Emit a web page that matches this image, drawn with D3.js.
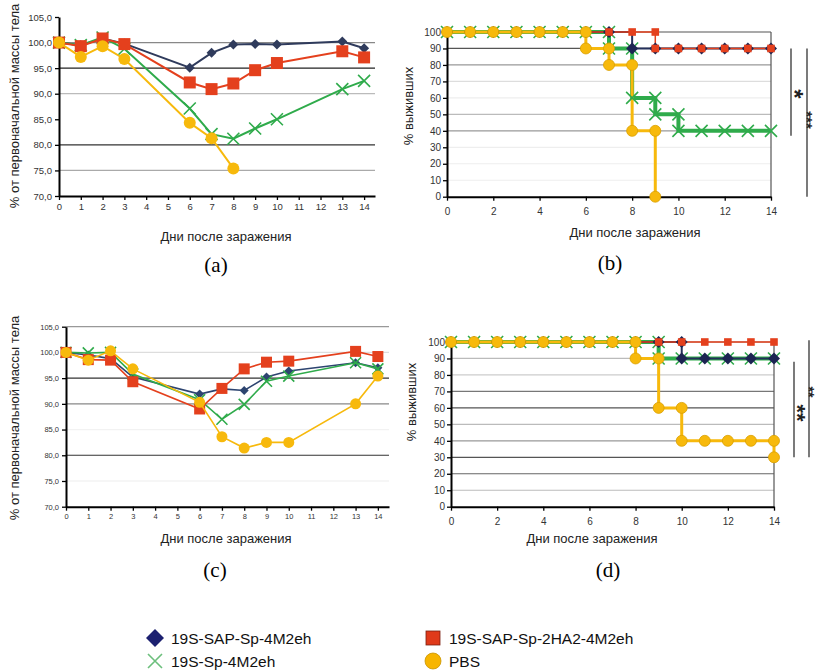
<!DOCTYPE html>
<html lang="ru">
<head>
<meta charset="utf-8">
<title>Масса тела и выживаемость</title>
<script src="https://cdn.jsdelivr.net/npm/d3@7"></script>
<style>
  body { margin: 0; background: #fff; }
  svg { display: block; font-family: "Liberation Sans", Arial, sans-serif; }
</style>
</head>
<body>
<svg id="chart" width="816" height="670"></svg>
<script>
// ---- data ----
var seriesNames = ["19S-SAP-Sp-4M2eh", "19S-SAP-Sp-2HA2-4M2eh", "19S-Sp-4M2eh", "PBS"];

var weightDays = [0, 1, 2, 3, 6, 7, 8, 9, 10, 13, 14];
var weightTicks = [70, 75, 80, 85, 90, 95, 100, 105];
var dayTicks = [0, 1, 2, 3, 4, 5, 6, 7, 8, 9, 10, 11, 12, 13, 14];

// (a) body weight, % of initial
var weightA_sap  = [100, 99.5, 100.8, 99.8, 95.1, 98.0, 99.6, 99.7, 99.6, 100.2, 98.9];
var weightA_ha2  = [100, 99.3, 100.8, 99.7, 92.2, 90.9, 92.0, 94.6, 96.0, 98.3, 97.1];
var weightA_sp   = [100, 99.5, 101.0, 98.8, 87.1, 82.1, 81.2, 83.2, 85.0, 90.9, 92.5];
var weightA_pbs  = [100, 97.2, 99.3, 96.8, 84.3, 81.3, 75.4, null, null, null, null];

// (c) body weight, % of initial
var weightC_sap  = [100, 99.5, 98.8, 95.2, 91.9, 92.9, 92.6, 95.2, 96.4, 98.0, 97.0];
var weightC_ha2  = [100, 98.6, 98.5, 94.3, 89.0, 93.0, 96.8, 98.1, 98.3, 100.2, 99.2];
var weightC_sp   = [100, 99.9, 100.0, 95.8, 90.8, 87.0, 89.9, 94.4, 95.4, 98.0, 96.8];
var weightC_pbs  = [100, 98.5, 100.3, 96.8, 90.3, 83.6, 81.4, 82.5, 82.5, 90.0, 95.4];

var survTicks = [0, 10, 20, 30, 40, 50, 60, 70, 80, 90, 100];
var survDayTicks = [0, 2, 4, 6, 8, 10, 12, 14];

// (b) survival, [day, %]
var survB_sap = [[0,100],[1,100],[2,100],[3,100],[4,100],[5,100],[6,100],[7,100],
                 [8,90],[9,90],[10,90],[11,90],[12,90],[13,90],[14,90]];
var survB_ha2 = [[0,100],[1,100],[2,100],[3,100],[4,100],[5,100],[6,100],[7,100],[8,100],[9,100],
                 [9,90],[10,90],[11,90],[12,90],[13,90],[14,90]];
var survB_sp  = [[0,100],[1,100],[2,100],[3,100],[4,100],[5,100],[6,100],[7,100],
                 [7,90],[8,90],[8,60],[9,60],[9,50],[10,50],[10,40],[11,40],[12,40],[13,40],[14,40]];
var survB_pbs = [[0,100],[1,100],[2,100],[3,100],[4,100],[5,100],[6,100],
                 [6,90],[7,90],[7,80],[8,80],[8,40],[9,40],[9,0]];

// (d) survival, [day, %]
var survD_sap = [[0,100],[1,100],[2,100],[3,100],[4,100],[5,100],[6,100],[7,100],[8,100],[9,100],[10,100],
                 [10,90],[11,90],[12,90],[13,90],[14,90]];
var survD_ha2 = [[0,100],[1,100],[2,100],[3,100],[4,100],[5,100],[6,100],[7,100],[8,100],[9,100],[10,100],
                 [11,100],[12,100],[13,100],[14,100]];
var survD_sp  = [[0,100],[1,100],[2,100],[3,100],[4,100],[5,100],[6,100],[7,100],[8,100],[9,100],
                 [9,90],[10,90],[11,90],[12,90],[13,90],[14,90]];
var survD_pbs = [[0,100],[1,100],[2,100],[3,100],[4,100],[5,100],[6,100],[7,100],[8,100],
                 [8,90],[9,90],[9,60],[10,60],[10,40],[11,40],[12,40],[13,40],[14,40],[14,30]];

var xTitle = "Дни после заражения";
var yTitleWeight = "% от первоначальной массы тела";
var yTitleSurv = "% выживших";

// ---- styles ----
var navy = "#2f3b5c", red = "#e4401d", green = "#2fab4b", yellow = "#f7b90c";
var fmtComma = function(v) { return d3.format(".1f")(v).replace(".", ","); };

var svg = d3.select("#chart");

function marker(g, kind, cx, cy, s, fill, stroke) {
  if (kind === "diamond") {
    g.append("path")
      .attr("d", "M" + cx + "," + (cy - s) + "L" + (cx + s) + "," + cy + "L" + cx + "," + (cy + s) + "L" + (cx - s) + "," + cy + "Z")
      .attr("fill", fill).attr("stroke", stroke || "none").attr("stroke-width", 0.8);
  } else if (kind === "square") {
    g.append("rect").attr("x", cx - s).attr("y", cy - s).attr("width", 2 * s).attr("height", 2 * s)
      .attr("fill", fill).attr("stroke", stroke || "none").attr("stroke-width", 0.8);
  } else if (kind === "circle") {
    g.append("circle").attr("cx", cx).attr("cy", cy).attr("r", s)
      .attr("fill", fill).attr("stroke", stroke || "none").attr("stroke-width", 0.8);
  } else if (kind === "x") {
    g.append("path")
      .attr("d", "M" + (cx - s) + "," + (cy - s) + "L" + (cx + s) + "," + (cy + s) + "M" + (cx - s) + "," + (cy + s) + "L" + (cx + s) + "," + (cy - s))
      .attr("stroke", fill).attr("stroke-width", 1.6).attr("fill", "none");
  }
}

function weightPanel(o) {
  var g = svg.append("g");
  var x = d3.scaleLinear().domain([0, 14.5]).range([o.left, o.right]);
  var y = d3.scaleLinear().domain([70, 105]).range([o.bottom, o.top]);

  weightTicks.forEach(function(t, i) {
    if (!o.grid[i]) return;
    g.append("line").attr("x1", x(0)).attr("x2", x(14.5)).attr("y1", y(t)).attr("y2", y(t))
      .attr("stroke", o.grid[i]).attr("stroke-width", 1.2);
  });

  var ya = g.append("g").attr("transform", "translate(" + x(0) + ",0)")
    .call(d3.axisLeft(y).tickValues(weightTicks).tickFormat(fmtComma).tickSize(4).tickSizeOuter(0));
  var xa = g.append("g").attr("transform", "translate(0," + y(70) + ")")
    .call(d3.axisBottom(x).tickValues(dayTicks).tickFormat(d3.format("d")).tickSize(4).tickSizeOuter(0));
  [ya, xa].forEach(function(a) {
    a.select(".domain").attr("stroke", "#000").attr("stroke-width", 2);
    a.selectAll(".tick line").attr("stroke", "#000").attr("stroke-width", 1.3);
    a.selectAll("text").attr("font-family", "Liberation Sans, Arial, sans-serif")
      .attr("font-size", o.tickFont).attr("fill", "#333");
  });
  ya.selectAll("text").attr("x", -7);

  var sets = [
    {v: o.data[0], c: o.navy || navy, m: "diamond", s: o.ms - 1},
    {v: o.data[2], c: green, m: "x", s: o.ms},
    {v: o.data[1], c: red, m: "square", s: o.ms},
    {v: o.data[3], c: yellow, m: "circle", s: o.ms}
  ];
  var line = d3.line()
    .defined(function(d) { return d[1] != null; })
    .x(function(d) { return x(d[0]); })
    .y(function(d) { return y(d[1]); });
  sets.forEach(function(st) {
    var pts = weightDays.map(function(d, i) { return [d, st.v[i]]; });
    g.append("path").attr("d", line(pts)).attr("fill", "none")
      .attr("stroke", st.c).attr("stroke-width", o.lw);
    pts.forEach(function(p) {
      if (p[1] == null) return;
      marker(g, st.m, x(p[0]), y(p[1]), st.s, st.c);
    });
  });

  g.append("text").attr("x", o.xtX).attr("y", o.xtY).attr("text-anchor", "middle")
    .attr("font-size", 13).attr("fill", "#222").text(xTitle);
  g.append("text").attr("transform", "translate(" + o.ytX + "," + o.ytY + ") rotate(-90)")
    .attr("text-anchor", "middle").attr("font-size", 13).attr("fill", "#222").text(yTitleWeight);
  g.append("text").attr("x", o.lbX).attr("y", o.lbY).attr("text-anchor", "middle")
    .attr("font-family", "Liberation Serif, Times New Roman, serif").attr("font-size", 21).text(o.label);
}

function survPanel(o) {
  var g = svg.append("g");
  var x = d3.scaleLinear().domain([0, 14]).range([o.left, o.right]);
  var y = d3.scaleLinear().domain([0, 100]).range([o.bottom, o.top]);

  survTicks.forEach(function(t, i) {
    if (!o.grid[i]) return;
    g.append("line").attr("x1", x(0)).attr("x2", x(14)).attr("y1", y(t)).attr("y2", y(t))
      .attr("stroke", o.grid[i]).attr("stroke-width", 1.2);
  });
  g.append("line").attr("x1", x(14)).attr("x2", x(14)).attr("y1", y(0)).attr("y2", y(100))
    .attr("stroke", "#555").attr("stroke-width", 1.2);

  var ya = g.append("g").attr("transform", "translate(" + x(0) + ",0)")
    .call(d3.axisLeft(y).tickValues(survTicks).tickFormat(d3.format("d")).tickSize(4).tickSizeOuter(0));
  var xa = g.append("g").attr("transform", "translate(0," + y(0) + ")")
    .call(d3.axisBottom(x).tickValues(survDayTicks).tickFormat(d3.format("d")).tickSize(4).tickSizeOuter(0));
  [ya, xa].forEach(function(a) {
    a.select(".domain").attr("stroke", "#000").attr("stroke-width", 2);
    a.selectAll(".tick line").attr("stroke", "#000").attr("stroke-width", 1.3);
    a.selectAll("text").attr("font-family", "Liberation Sans, Arial, sans-serif")
      .attr("font-size", 10).attr("fill", "#333");
  });
  ya.selectAll("text").attr("x", -6);
  xa.selectAll("text").attr("y", 11);

  var sets = [
    {v: o.data[2], c: green, m: "x", s: 6, lw: 4},
    {v: o.data[0], c: "#1c2452", m: "diamond", s: 6, lw: 2},
    {v: o.data[1], c: red, m: "square", s: 3.8, lw: 1.5},
    {v: o.data[3], c: yellow, m: "circle", s: 5.5, lw: 3}
  ];
  var line = d3.line().curve(d3.curveStepAfter)
    .x(function(d) { return x(d[0]); })
    .y(function(d) { return y(d[1]); });
  sets.forEach(function(st) {
    g.append("path").attr("d", line(st.v)).attr("fill", "none")
      .attr("stroke", st.c === "#1c2452" ? "#24305a" : st.c).attr("stroke-width", st.lw);
  });
  sets.forEach(function(st) {
    st.v.forEach(function(p) {
      marker(g, st.m, x(p[0]), y(p[1]), st.s, st.c, st.m === "circle" ? "#d9a000" : null);
    });
  });

  // significance brackets; rotated asterisks sit about 0.55em off the baseline
  o.sig.forEach(function(s) {
    g.append("line").attr("x1", s.x).attr("x2", s.x).attr("y1", y(s.from)).attr("y2", y(s.to))
      .attr("stroke", "#222").attr("stroke-width", 1.2);
    g.append("text").attr("transform", "translate(" + (s.gx - s.fs * 0.55) + "," + s.ty + ") rotate(90)")
      .attr("text-anchor", "middle").attr("font-size", s.fs).attr("font-weight", "bold")
      .attr("fill", "#222").text(s.text);
  });

  g.append("text").attr("x", o.xtX).attr("y", o.xtY).attr("text-anchor", "middle")
    .attr("font-size", 13).attr("fill", "#222").text(xTitle);
  g.append("text").attr("transform", "translate(" + o.ytX + "," + o.ytY + ") rotate(-90)")
    .attr("text-anchor", "middle").attr("font-size", 13).attr("fill", "#222").text(yTitleSurv);
  g.append("text").attr("x", o.lbX).attr("y", o.lbY).attr("text-anchor", "middle")
    .attr("font-family", "Liberation Serif, Times New Roman, serif").attr("font-size", 21).text(o.label);
}

weightPanel({
  left: 59, right: 375, top: 17, bottom: 196, tickFont: 9.5, ms: 6, lw: 2,
  grid: [null, "#aaa", "#333", null, "#bbb", "#222", "#888", null],
  data: [weightA_sap, weightA_ha2, weightA_sp, weightA_pbs],
  xtX: 226, xtY: 241, ytX: 19, ytY: 106, lbX: 216, lbY: 272, label: "(a)"
});

weightPanel({
  left: 66, right: 389, top: 326.7, bottom: 506.7, tickFont: 7.5, ms: 5.5, lw: 1.6, navy: "#2d4470",
  grid: [null, "#eee", "#333", "#f2f2f2", "#888", "#333", "#ddd", "#999"],
  data: [weightC_sap, weightC_ha2, weightC_sp, weightC_pbs],
  xtX: 226, xtY: 543, ytX: 19, ytY: 418, lbX: 215, lbY: 577, label: "(c)"
});

survPanel({
  left: 447, right: 771, top: 32, bottom: 196.7,
  grid: [null, "#eee", "#eee", "#eee", "#999", "#bbb", "#eee", "#ddd", "#999", "#555", "#555"],
  data: [survB_sap, survB_ha2, survB_sp, survB_pbs],
  sig: [{x: 791, from: 90, to: 37, text: "*", gx: 799, ty: 94, fs: 24},
        {x: 807, from: 90, to: 0, text: "***", gx: 810.5, ty: 120, fs: 15}],
  xtX: 635, xtY: 237, ytX: 413, ytY: 106, lbX: 610, lbY: 270, label: "(b)"
});

survPanel({
  left: 451, right: 774, top: 342, bottom: 506.7,
  grid: [null, "#bbb", "#666", "#555", "#999", "#bbb", "#555", "#777", "#ccc", "#bbb", "#888"],
  data: [survD_sap, survD_ha2, survD_sp, survD_pbs],
  sig: [{x: 794, from: 88, to: 30, text: "**", gx: 802, ty: 413, fs: 22},
        {x: 809, from: 101, to: 30, text: "**", gx: 812, ty: 392, fs: 14}],
  xtX: 592, xtY: 543, ytX: 416, ytY: 402, lbX: 608, lbY: 577, label: "(d)"
});

// ---- legend ----
var legend = svg.append("g");
var legItems = [
  {name: seriesNames[0], m: "diamond", c: "#1c2070", x: 155, y: 638, s: 9},
  {name: seriesNames[1], m: "square", c: "#e03a1a", x: 433, y: 638, s: 7},
  {name: seriesNames[2], m: "x", c: "#6cbf7c", x: 155, y: 661, s: 7},
  {name: seriesNames[3], m: "circle", c: "#f7b500", x: 433, y: 661, s: 8}
];
legItems.forEach(function(d) {
  var stroke = d.m === "square" ? "#7a2010" : d.m === "circle" ? "#c99400" : null;
  marker(legend, d.m, d.x, d.y, d.s, d.c, stroke);
  legend.append("text").attr("x", d.x + 16).attr("y", d.y + 5.5)
    .attr("font-size", 15.5).attr("fill", "#111").text(d.name);
});
</script>
</body>
</html>
